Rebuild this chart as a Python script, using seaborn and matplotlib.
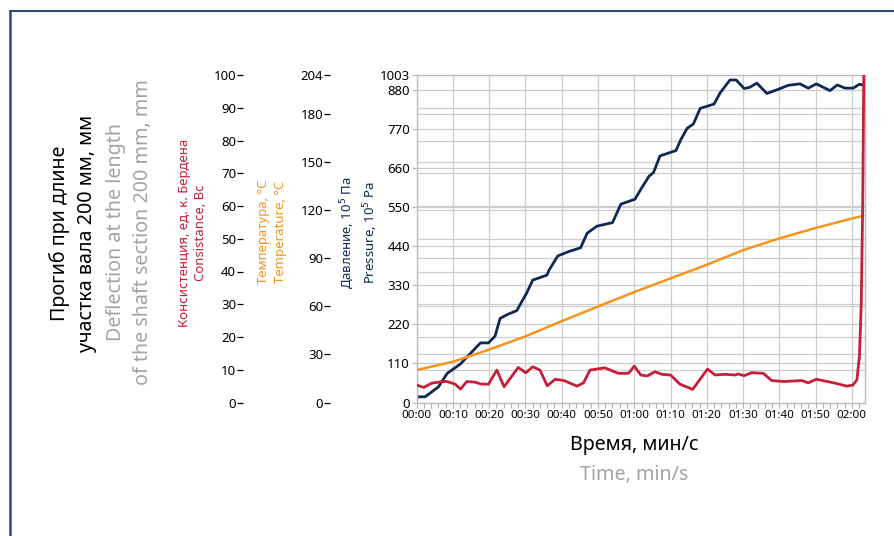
import matplotlib
matplotlib.use("Agg")
import matplotlib.pyplot as plt
from matplotlib.ticker import FixedLocator, FixedFormatter, MultipleLocator
from matplotlib.lines import Line2D
import seaborn as sns
import pandas as pd

sns.set_theme(style="white")
plt.rcParams['font.family'] = ['Noto Sans', 'DejaVu Sans']

# ---- data (time in minutes) ----
p_time = [0, 2.3, 6, 8.4, 12, 14.7, 17.6, 19.8, 21.6, 23, 24.8, 27.6, 30.3, 32, 35.9, 36.5,
          38.9, 41.8, 45.2, 47, 49.7, 54, 56.3, 60.2, 62, 64.1, 65.3, 67.1, 71.5, 72.8, 74.6,
          76.3, 78.2, 82, 83.7, 86.4, 88.1, 90.3, 91.8, 93.8, 96.6, 99.8, 102.5, 105.7, 108,
          110.2, 114, 116, 118.1, 120.4, 122.1, 123.2]
pressure = [16, 16, 44, 82, 108, 137, 168, 168, 187, 237, 247, 259, 308, 345, 359, 373,
            413, 425, 436, 477, 497, 507, 559, 573, 604, 638, 648, 695, 710, 740, 773,
            785, 829, 841, 873, 909, 909, 885, 888, 900, 871, 883, 894, 898, 886,
            898, 879, 895, 886, 886, 897, 894]

t_time = [0, 10, 20, 30, 40, 50, 60, 70, 80, 90, 100, 110, 120, 123.2]
temperature = [20.2, 25.4, 33.0, 41.2, 50.7, 59.8, 68.8, 77.3, 85.8, 94.9, 102.2, 108.7, 114.6, 116.3]

c_time = [0, 2, 4.1, 7.3, 8.4, 10.6, 12.1, 13.8, 16.1, 17.9, 19.8, 22.1, 24.1, 28, 30.1, 32,
          34, 36, 38.2, 40.6, 44.2, 46, 47.8, 51.9, 55.6, 58.4, 60, 61.8, 63.6, 65.7, 67.6,
          70, 72.6, 76.1, 80.2, 82.3, 85, 87.8, 88.7, 90.3, 92.4, 95.6, 97.9, 101.1, 106.2,
          108, 110.2, 115, 118.6, 120.3, 121.4, 122.1, 122.6, 123.0, 123.3]
consistency = [5.3, 4.6, 5.9, 6.4, 6.4, 5.6, 4.1, 6.4, 6.2, 5.6, 5.6, 9.9, 4.8, 10.7, 9.1, 10.9,
               9.9, 5.1, 7.1, 6.7, 5.0, 6.0, 9.9, 10.6, 8.9, 8.9, 11.1, 8.4, 8.1, 9.4, 8.6,
               8.4, 5.6, 4.0, 10.2, 8.4, 8.6, 8.4, 8.7, 8.2, 9.1, 8.9, 6.7, 6.4, 6.7,
               6.0, 7.1, 6.0, 5.0, 5.3, 6.9, 14, 30, 60, 100]

x_ticks = list(range(0, 121, 10))
x_labels = [f"{t // 60:02d}:{t % 60:02d}" for t in x_ticks]
p_tick_vals = [0, 110, 220, 330, 440, 550, 660, 770, 880, 923]
p_tick_labels = ["0", "110", "220", "330", "440", "550", "660", "770", "880", "1003"]
p_max = 923
c_ticks = list(range(0, 101, 10))
c_max = 100
t_ticks = [0, 30, 60, 90, 120, 150, 180, 204]
t_max = 204

RED = "#c61f3a"
ORANGE = "#f7941d"
NAVY = "#0e2a52"
GRAYTXT = "#a3a3a3"
GRID = "#cdcdcd"

fig = plt.figure(figsize=(8.94, 5.36), dpi=100)
fig.patch.set_facecolor("white")

# frame
fig.add_artist(Line2D([10/894, 1.0], [1-11/536, 1-11/536], transform=fig.transFigure,
                      color="#2b4a75", lw=1.5))
fig.add_artist(Line2D([10/894, 10/894], [0, 1-11/536], transform=fig.transFigure,
                      color="#2b4a75", lw=1.8))

ax = fig.add_axes([416.7/894, 1-402.5/536, (864.5-416.7)/894, (402.5-75)/536])
ax_t = ax.twinx()
ax_c = ax.twinx()

# main (pressure) axis
sns.lineplot(x=p_time, y=pressure, ax=ax, color=NAVY, linewidth=2.0, legend=False,
             estimator=None, sort=False)
ax.set_xlim(0, 123.5)
ax.set_ylim(0, p_max)
ax.xaxis.set_major_locator(FixedLocator(x_ticks))
ax.xaxis.set_major_formatter(FixedFormatter(x_labels))
ax.xaxis.set_minor_locator(MultipleLocator(2))
ax.yaxis.set_major_locator(FixedLocator(p_tick_vals))
ax.yaxis.set_major_formatter(FixedFormatter(p_tick_labels))
extra = [v * p_max / c_max for v in c_ticks[1:-1]] + [v * p_max / t_max for v in t_ticks[1:-1]]
ax.yaxis.set_minor_locator(FixedLocator(extra))
ax.grid(True, which="major", color=GRID, lw=0.9)
ax.grid(True, which="minor", axis="y", color=GRID, lw=0.9)
ax.tick_params(axis="x", which="both", bottom=True, direction="out", length=3.5, width=0.8,
               color="#b5b5b5", labelsize=8.3, pad=2, labelcolor="black")
ax.tick_params(axis="y", which="major", left=True, direction="out", length=3.5, width=0.8,
               color="#b5b5b5", labelsize=9.5, pad=1.5, labelcolor="black")
ax.tick_params(axis="y", which="minor", left=False, length=0)
for s in ax.spines.values():
    s.set_color("#bdbdbd")
    s.set_linewidth(1.0)
ax.set_xlabel("")
ax.set_ylabel("")

# temperature axis
sns.lineplot(x=t_time, y=temperature, ax=ax_t, color=ORANGE, linewidth=1.8, legend=False,
             estimator=None, sort=False)
ax_t.set_ylim(0, t_max)
ax_t.yaxis.set_major_locator(FixedLocator(t_ticks))

# consistency axis
sns.lineplot(x=c_time, y=consistency, ax=ax_c, color=RED, linewidth=2.0, legend=False,
             estimator=None, sort=False)
ax_c.set_ylim(0, c_max)
ax_c.yaxis.set_major_locator(FixedLocator(c_ticks))

for tw, off in ((ax_t, 62.4), (ax_c, 125.0)):
    tw.grid(False)
    tw.yaxis.set_ticks_position("left")
    for k in ("right", "top", "bottom"):
        tw.spines[k].set_visible(False)
    tw.spines["left"].set_visible(True)
    tw.spines["left"].set_position(("outward", off))
    tw.spines["left"].set_color("none")
    tw.tick_params(axis="y", left=True, right=False, labelleft=True, labelright=False,
                   direction="out", length=4.5, width=0.9, color="black",
                   labelsize=9.5, pad=0.5, labelcolor="black")
    tw.set_ylabel("")
    tw.set_xlabel("")

# side labels
fig.text(73/894, 1-233/536, "Прогиб при длине\nучастка вала 200 мм, мм", rotation=90,
         ha="center", va="center", multialignment="center", fontsize=14.2,
         color="black", linespacing=1.45)
fig.text(129.5/894, 1-232/536, "Deflection at the length\nof the shaft section 200 mm, mm",
         rotation=90, ha="center", va="center", multialignment="center", fontsize=14.2,
         color=GRAYTXT, linespacing=1.45)
fig.text(192.5/894, 1-233/536, "Консистенция, ед. к. Бердена\nConsistance, Bc", rotation=90,
         ha="center", va="center", multialignment="center", fontsize=9.5, color=RED,
         linespacing=1.35)
fig.text(272/894, 1-232/536, "Температура, °C\nTemperature, °C", rotation=90,
         ha="center", va="center", multialignment="center", fontsize=9.5, color=ORANGE,
         linespacing=1.35)
fig.text(359/894, 1-233/536, "Давление, 10$^5$ Па\nPressure, 10$^5$ Pa", rotation=90,
         ha="center", va="center", multialignment="center", fontsize=9.5, color=NAVY,
         linespacing=1.35)

fig.text(634.5/894, 1-445/536, "Время, мин/с", ha="center", va="center", fontsize=14.2,
         color="black")
fig.text(634.5/894, 1-475/536, "Time, min/s", ha="center", va="center", fontsize=14.2,
         color=GRAYTXT)

fig.savefig("out.png", dpi=100, facecolor="white")
